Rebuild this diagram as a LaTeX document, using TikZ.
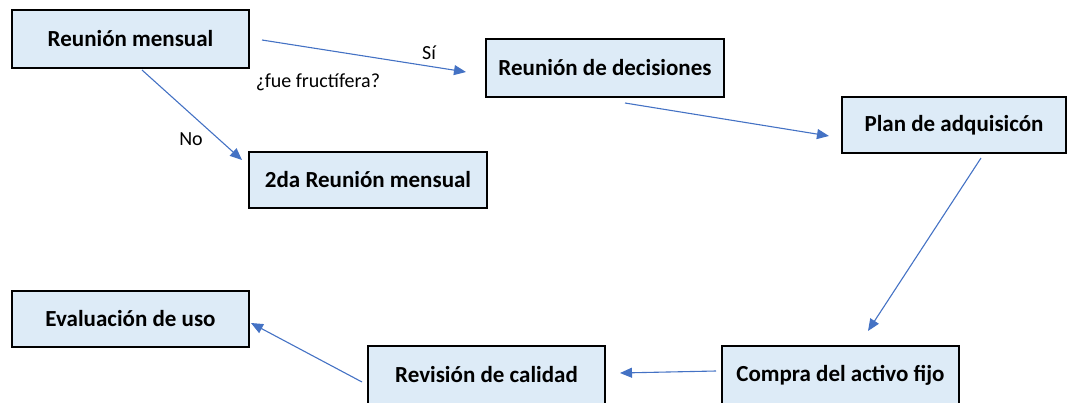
\documentclass[tikz,border=0pt]{standalone}
\usepackage{fontspec}
\setmainfont{Carlito}
\usetikzlibrary{arrows.meta}
\definecolor{boxfill}{HTML}{DDEBF7}
\definecolor{arrowblue}{HTML}{4472C4}
\begin{document}
\begin{tikzpicture}[x=1pt,y=-1pt,
  flowbox/.style={draw=black,line width=1.8pt,fill=boxfill,rectangle,inner sep=0pt,
    font=\bfseries\fontsize{23}{27}\selectfont,text=black},
  link/.style={draw=arrowblue,line width=1.1pt,-{Triangle[length=12pt,width=10pt]}},
  lbl/.style={font=\fontsize{20}{24}\selectfont,text=black,inner sep=0pt}]
\useasboundingbox (0,0) rectangle (1077,402);
\node[flowbox,minimum width=237pt,minimum height=58pt] (b1) at (130.5,39) {Reunión mensual};
\node[flowbox,minimum width=238pt,minimum height=58pt] (b2) at (605,68) {Reunión de decisiones};
\node[flowbox,minimum width=224pt,minimum height=56pt] (b3) at (954,125) {Plan de adquisicón};
\node[flowbox,minimum width=238pt,minimum height=56pt] (b4) at (368,180) {2da Reunión mensual};
\node[flowbox,minimum width=237pt,minimum height=56pt] (b5) at (130.5,319) {Evaluación de uso};
\node[flowbox,minimum width=237pt,minimum height=58pt] (b6) at (486.5,375) {Revisión de calidad};
\node[flowbox,minimum width=237pt,minimum height=58pt] (b7) at (840.5,375) {Compra del activo fijo};
% connector end points
\coordinate (a1s) at (262,40);  \coordinate (a1e) at (466,72);
\coordinate (a2s) at (142,70);  \coordinate (a2e) at (242,160);
\coordinate (a3s) at (625,103); \coordinate (a3e) at (829,136);
\coordinate (a4s) at (981,158); \coordinate (a4e) at (868,331);
\coordinate (a5s) at (716,371); \coordinate (a5e) at (620,373);
\coordinate (a6s) at (362,382); \coordinate (a6e) at (251,323);
\draw[link] (a1s) -- (a1e);
\draw[link] (a2s) -- (a2e);
\draw[link] (a3s) -- (a3e);
\draw[link] (a4s) -- (a4e);
\draw[link] (a5s) -- (a5e);
\draw[link] (a6s) -- (a6e);
\node[lbl] (lsi) at (429,53) {Sí};
\node[lbl] (lq) at (318,82) {¿fue fructífera?};
\node[lbl] (lno) at (191,139) {No};
\end{tikzpicture}
\end{document}
